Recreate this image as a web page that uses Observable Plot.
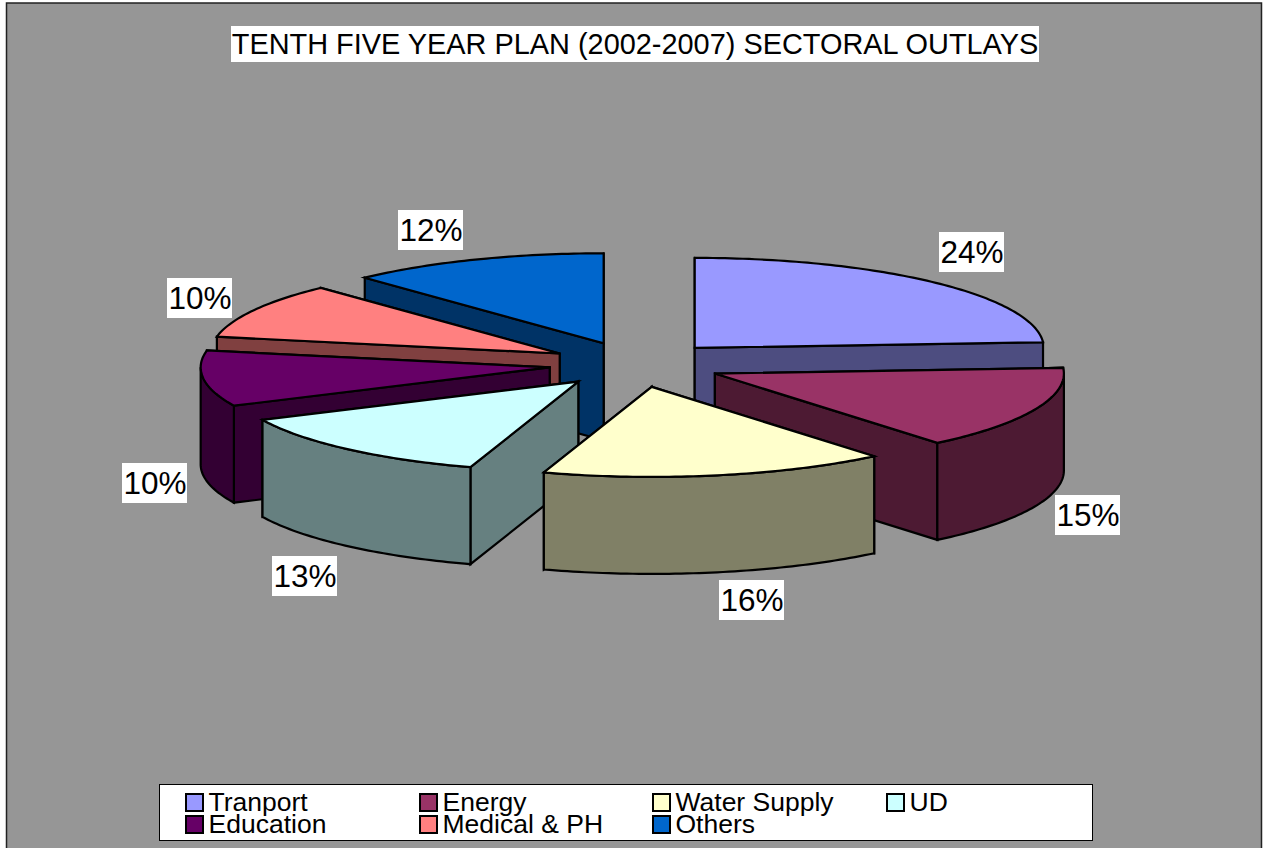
<!DOCTYPE html>
<html>
<head>
<meta charset="utf-8">
<title>Tenth Five Year Plan sectoral outlays</title>
<script src="https://cdn.jsdelivr.net/npm/d3@7"></script>
<script src="https://cdn.jsdelivr.net/npm/@observablehq/plot@0.6"></script>
<style>
  html, body { margin: 0; padding: 0; background: #fff; overflow: hidden; }
  svg { display: block; }
</style>
</head>
<body>
<div id="chart"></div>
<script>
// Sector shares of the plan outlay, in percent
const sectors = ["Tranport", "Energy", "Water Supply", "UD", "Education", "Medical & PH", "Others"];
const shares = [24, 15, 16, 13, 10, 10, 12];
const topColors = ["#9999FF", "#993366", "#FFFFCC", "#CCFFFF", "#660066", "#FF8080", "#0066CC"];
const sideColors = ["#4D4D80", "#4D1A33", "#808066", "#668080", "#330033", "#804040", "#003366"];
// Back-to-front painting order of the slices
const paintOrder = ["Others", "Tranport", "Medical & PH", "Education", "Energy", "UD", "Water Supply"];

// Label boxes, in the same order as the sectors (left, top)
const labelBoxes = [[939, 232], [1055, 495], [719, 580], [272, 556], [122, 463], [167, 278], [398, 210]];
const legendColumns = [186, 420, 653, 887];
const legendRows = [794, 816];

// Tilted pie geometry
const pie = {cx: 635, cy: 364, rx: 349, ry: 90, depth: 97, explodeX: 86.5, explodeY: 22.8};
const rad = (deg) => (deg * Math.PI) / 180;

const slices = [];
let running = 0;
sectors.forEach((name, i) => {
  const a0 = (running / 100) * 360;
  running += shares[i];
  const a1 = (running / 100) * 360;
  const mid = rad((a0 + a1) / 2);
  slices.push({
    name, a0, a1,
    top: topColors[i], side: sideColors[i],
    ax: pie.cx + pie.explodeX * Math.sin(mid),
    ay: pie.cy - pie.explodeY * Math.cos(mid)
  });
});

const rimPoint = (s, deg, drop = 0) => [
  s.ax + pie.rx * Math.sin(rad(deg)),
  s.ay - pie.ry * Math.cos(rad(deg)) + drop
];
const arc = (s, from, to, drop = 0) => {
  const n = Math.max(2, Math.ceil(Math.abs(to - from)));
  return d3.range(n + 1).map((k) => rimPoint(s, from + ((to - from) * k) / n, drop));
};

// One closed outline per visible face, collected in painting order
const rows = [];
let faceId = 0;
const addFace = (points, fill) => {
  faceId += 1;
  [...points, points[0], points[1]].forEach(([x, y]) => rows.push({face: faceId, x, y, fill}));
};

paintOrder.forEach((name) => {
  const s = slices.find((d) => d.name === name);
  const apex = [s.ax, s.ay];
  const apexLow = [s.ax, s.ay + pie.depth];

  // Radial cut walls, the one further back first
  [s.a0, s.a1]
    .sort((p, q) => rimPoint(s, p)[1] - rimPoint(s, q)[1])
    .forEach((deg) => addFace([apex, rimPoint(s, deg), rimPoint(s, deg, pie.depth), apexLow], s.side));

  // Outer wall: only the part of the rim that faces the viewer
  const from = Math.max(s.a0, 90);
  const to = Math.min(s.a1, 270);
  if (to > from) addFace([...arc(s, from, to), ...arc(s, to, from, pie.depth)], s.side);

  addFace([apex, ...arc(s, s.a0, s.a1)], s.top);
});

const textStyle = {fontFamily: "Liberation Sans, Arial, sans-serif", fill: "#000", lineAnchor: "bottom"};

const labels = sectors.map((name, i) => ({
  text: `${shares[i]}%`,
  x1: labelBoxes[i][0], y1: labelBoxes[i][1],
  x2: labelBoxes[i][0] + 65, y2: labelBoxes[i][1] + 40
}));

const legendItems = sectors.map((name, i) => {
  const col = legendColumns[i % 4];
  const row = legendRows[Math.floor(i / 4)];
  return {name, fill: topColors[i], x1: col, x2: col + 17, y1: row, y2: row + 17, tx: col + 22, ty: row + 16.5};
});

const chart = Plot.plot({
  width: 1263,
  height: 848,
  margin: 0,
  x: {domain: [0, 1263], range: [0, 1263], axis: null},
  y: {domain: [0, 848], range: [0, 848], axis: null},
  color: {type: "identity"},
  style: {background: "#fff"},
  marks: [
    // Chart area
    Plot.rect([{x1: 6.5, x2: 1261.5, y1: 3, y2: 870}], {
      x1: "x1", x2: "x2", y1: "y1", y2: "y2", fill: "#969696", stroke: "#222", strokeWidth: 1.5
    }),
    // Title
    Plot.rect([{x1: 231, x2: 1039, y1: 26, y2: 62}], {x1: "x1", x2: "x2", y1: "y1", y2: "y2", fill: "#fff"}),
    Plot.text(["TENTH FIVE YEAR PLAN (2002-2007) SECTORAL OUTLAYS"], {
      ...textStyle, x: () => 634.5, y: () => 53, text: (d) => d, fontSize: 28.9, textAnchor: "middle"
    }),
    // Pie faces
    Plot.line(rows, {
      x: "x", y: "y", z: "face", fill: "fill", stroke: "#000", strokeWidth: 2.2,
      strokeLinejoin: "miter", strokeMiterlimit: 6, curve: "linear"
    }),
    // Percentage labels on white boxes
    Plot.rect(labels, {x1: "x1", x2: "x2", y1: "y1", y2: "y2", fill: "#fff"}),
    Plot.text(labels, {
      ...textStyle, x: (d) => (d.x1 + d.x2) / 2, y: (d) => d.y1 + 30, text: "text", fontSize: 31.5, textAnchor: "middle"
    }),
    // Legend
    Plot.rect([{x1: 159.5, x2: 1092.5, y1: 784.5, y2: 840.5}], {
      x1: "x1", x2: "x2", y1: "y1", y2: "y2", fill: "#fff", stroke: "#000", strokeWidth: 1
    }),
    Plot.rect(legendItems, {x1: "x1", x2: "x2", y1: "y1", y2: "y2", fill: "fill", stroke: "#000", strokeWidth: 2}),
    Plot.text(legendItems, {
      ...textStyle, x: "tx", y: "ty", text: "name", fontSize: 26.5, textAnchor: "start"
    })
  ]
});

document.getElementById("chart").appendChild(chart);
</script>
</body>
</html>
